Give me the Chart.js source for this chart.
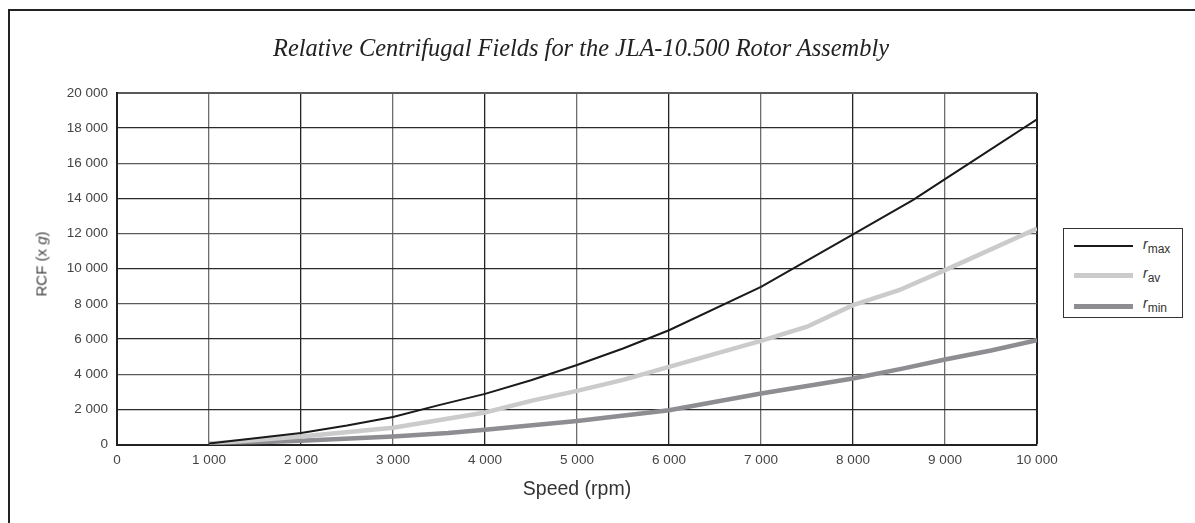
<!DOCTYPE html>
<html>
<head>
<meta charset="utf-8">
<script src="https://cdn.jsdelivr.net/npm/chart.js@4"></script>
<style>
  html, body { margin: 0; padding: 0; background: #fff; overflow: hidden; }
  #wrap { position: relative; width: 1195px; height: 523px; }
  #frame { position: absolute; left: 8px; top: 9px; width: 1400px; height: 700px;
           border-left: 2px solid #222; border-top: 2px solid #222; }
  #chartBox { position: absolute; left: 0; top: 0; width: 1195px; height: 523px; }
  #title { position: absolute; left: 0; width: 1162px; top: 36px; text-align: center;
           font: italic 24.4px/24px "Liberation Serif", "DejaVu Serif", serif; color: #222; }
  #ytitle { position: absolute; left: 41px; top: 264px; transform: translate(-50%, -50%) rotate(-90deg);
            font: 15px "Liberation Sans", Arial, sans-serif; color: #444; white-space: nowrap; }
  #legend { position: absolute; left: 1063px; top: 228px; width: 118px; height: 88px;
            border: 1.5px solid #333; background: #fff; }
  .row { position: absolute; left: 0; width: 118px; height: 20px; }
  .sw { position: absolute; left: 10px; width: 59px; }
  .lab { position: absolute; left: 79px; top: 0; font: italic 14px "Liberation Sans", Arial, sans-serif; color: #333; }
  .lab sub { font-style: normal; font-size: 12px; vertical-align: -4px; }
</style>
</head>
<body>
<div id="wrap">
  <div id="frame"></div>
  <div id="chartBox"><canvas id="rcfChart"></canvas></div>
  <div id="title">Relative Centrifugal Fields for the JLA-10.500 Rotor Assembly</div>
  <div id="ytitle">RCF (x <i>g</i>)</div>
  <div id="legend">
    <div class="row" style="top:7px"><div class="sw" style="top:9px;height:2px;background:#1a1a1a"></div><div class="lab">r<sub>max</sub></div></div>
    <div class="row" style="top:36px"><div class="sw" style="top:8px;height:5px;background:#cbcbcb"></div><div class="lab">r<sub>av</sub></div></div>
    <div class="row" style="top:66px"><div class="sw" style="top:9px;height:5px;background:#8e8e92"></div><div class="lab">r<sub>min</sub></div></div>
  </div>
</div>
<script>
// values (rpm -> RCF x g)
var rmaxSpeed = [1000, 2000, 2500, 3000, 3500, 4000, 4500, 5000, 5500, 6000, 7000, 8000, 8650, 9000, 10000];
var rmaxRcf   = [60, 660, 1080, 1560, 2240, 2880, 3660, 4520, 5460, 6500, 8970, 11950, 13900, 15100, 18500];

var ravSpeed = [1000, 2000, 3000, 4000, 4500, 5000, 5500, 6000, 7000, 7500, 8000, 8500, 9000, 10000];
var ravRcf   = [50, 450, 950, 1820, 2480, 3050, 3680, 4420, 5900, 6700, 7930, 8780, 9920, 12290];

var rminSpeed = [1000, 2000, 3000, 3600, 4000, 5000, 6000, 7000, 8000, 8550, 9000, 9500, 10000];
var rminRcf   = [40, 210, 460, 650, 840, 1340, 1950, 2900, 3760, 4330, 4840, 5350, 5940];

var xTickMax = 10000, xTickStep = 1000;
var yTickMax = 20000, yTickStep = 2000;

function pts(xs, ys) {
    return xs.map(function(x, i) { return {x: x, y: ys[i]}; });
}
function spaced(v) {
    return String(v).replace(/\B(?=(\d{3})+(?!\d))/g, ' ');
}

var tickFont = {family: '"Liberation Sans", Arial, sans-serif', size: 13.5};

var ctx = document.getElementById('rcfChart').getContext('2d');
var rcfChart = new Chart(ctx, {
    type: 'line',
    data: {
        datasets: [{
            label: 'rmax',
            data: pts(rmaxSpeed, rmaxRcf),
            borderColor: '#1a1a1a',
            borderWidth: 2,
            pointRadius: 0,
            tension: 0,
            fill: false
        }, {
            label: 'rav',
            data: pts(ravSpeed, ravRcf),
            borderColor: '#cbcbcb',
            borderWidth: 4.5,
            pointRadius: 0,
            tension: 0,
            fill: false
        }, {
            label: 'rmin',
            data: pts(rminSpeed, rminRcf),
            borderColor: '#8e8e92',
            borderWidth: 4.5,
            pointRadius: 0,
            tension: 0,
            fill: false
        }]
    },
    options: {
        responsive: true,
        maintainAspectRatio: false,
        animation: false,
        layout: { padding: { left: 0, top: 93, right: 158, bottom: 0 } },
        plugins: {
            legend: { display: false },
            tooltip: { enabled: false }
        },
        scales: {
            x: {
                type: 'linear',
                min: 0,
                max: xTickMax,
                ticks: {
                    stepSize: xTickStep,
                    padding: 8,
                    color: '#444',
                    font: tickFont,
                    maxRotation: 0,
                    callback: function(v) { return spaced(v); }
                },
                grid: {
                    drawTicks: false,
                    lineWidth: function(c) { return c.tick && c.tick.value === xTickMax ? 2 : 1.3; },
                    color: function(c) {
                        if (!c.tick) return '#444';
                        return (c.tick.value / xTickStep) % 2 === 0 ? '#222' : '#6e6e6e';
                    }
                },
                border: { color: '#222', width: 2 },
                title: {
                    display: true,
                    text: 'Speed (rpm)',
                    color: '#333',
                    font: {family: '"Liberation Sans", Arial, sans-serif', size: 19.5},
                    padding: { top: 0, bottom: 22 }
                },
                afterFit: function(s) { s.height = 523 - 444.5; }
            },
            y: {
                min: 0,
                max: yTickMax,
                ticks: {
                    stepSize: yTickStep,
                    padding: 9,
                    color: '#444',
                    font: tickFont,
                    callback: function(v) { return spaced(v); }
                },
                grid: {
                    drawTicks: false,
                    lineWidth: function(c) { return c.tick && c.tick.value === yTickMax ? 2 : 1.3; },
                    color: function(c) {
                        if (!c.tick) return '#444';
                        return (c.tick.value / yTickStep) % 2 === 0 ? '#5a5a5a' : '#2a2a2a';
                    }
                },
                border: { color: '#222', width: 2 },
                afterFit: function(s) { s.width = 117; }
            }
        }
    }
});
</script>
</body>
</html>
